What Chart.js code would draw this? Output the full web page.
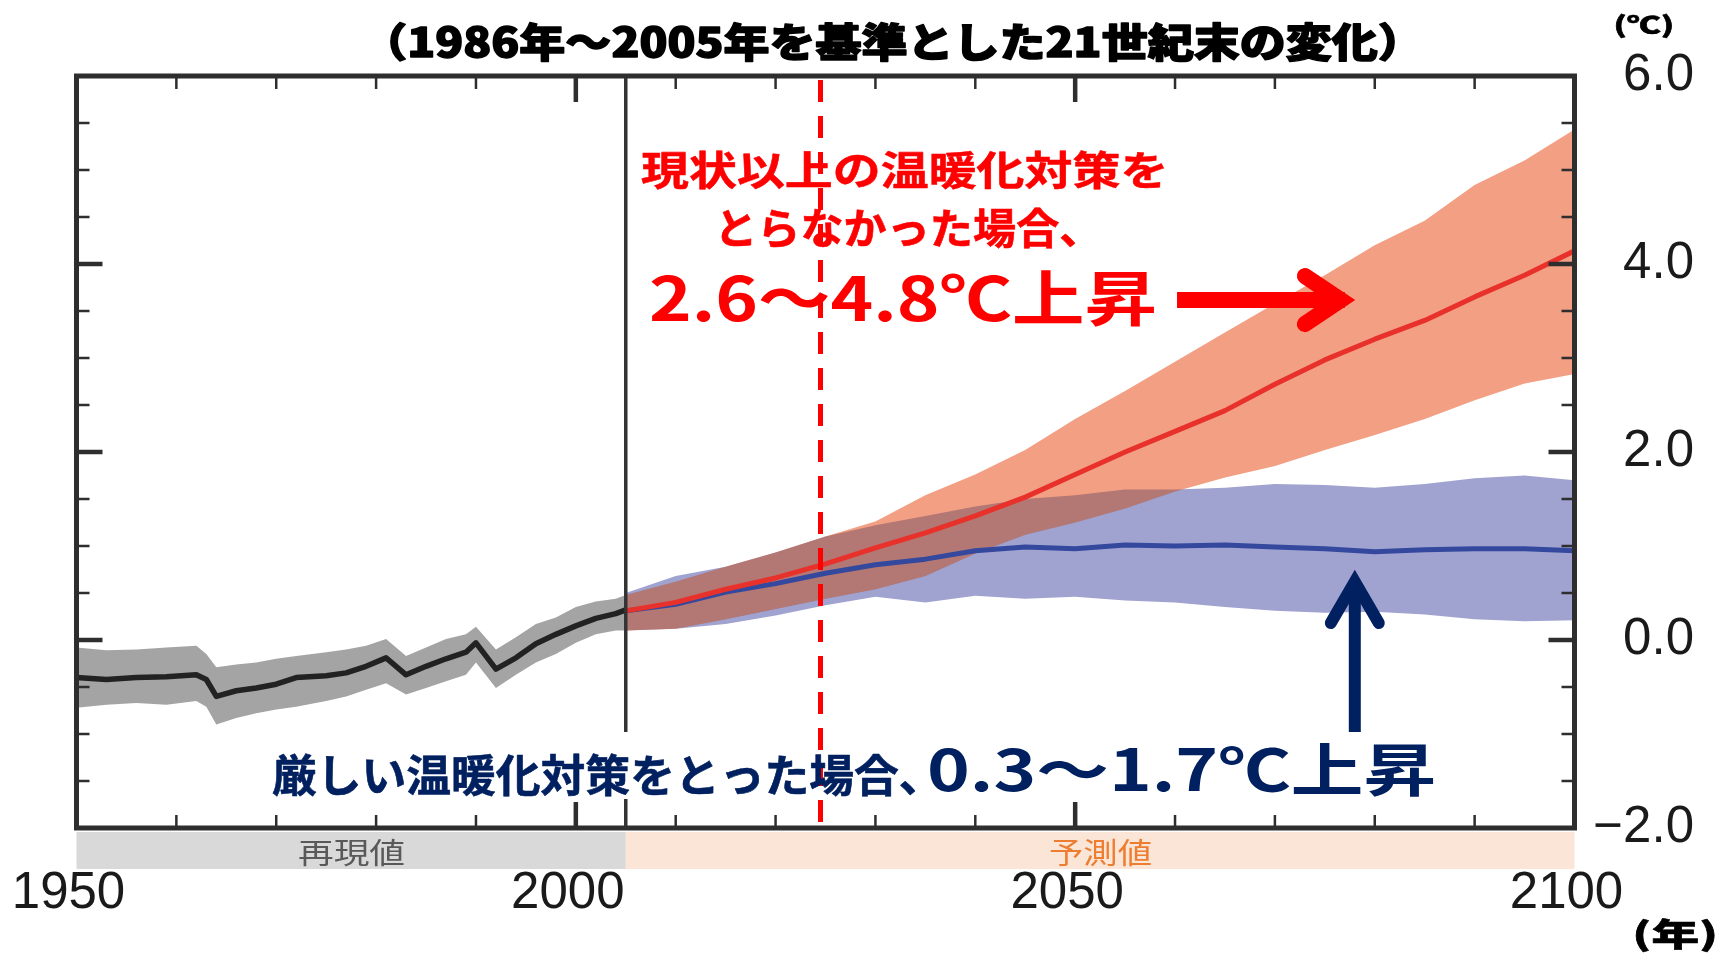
<!DOCTYPE html>
<html><head><meta charset="utf-8">
<script src="https://cdn.jsdelivr.net/npm/chart.js@4.4.1/dist/chart.umd.min.js"></script>
<style>html,body{margin:0;padding:0;background:#fff;}canvas{display:block;}</style>
</head><body>
<canvas id="c" width="1736" height="960"></canvas>
<script>
// ---------------- data ----------------
const histYears = [1950,1953,1956,1959,1962,1963,1964,1966,1968,1970,1972,1975,1977,1979,1981,1983,1985,1987,1989,1990,1992,1994,1996,1998,2000,2002,2004,2005];
const histMean  = [-0.40,-0.42,-0.40,-0.39,-0.37,-0.42,-0.60,-0.54,-0.51,-0.47,-0.40,-0.38,-0.35,-0.28,-0.19,-0.37,-0.28,-0.20,-0.13,-0.03,-0.31,-0.19,-0.04,0.06,0.15,0.23,0.28,0.32];
const histUpper = [-0.08,-0.11,-0.10,-0.08,-0.06,-0.15,-0.29,-0.26,-0.24,-0.20,-0.17,-0.13,-0.10,-0.06,0.01,-0.17,-0.08,0.01,0.06,0.14,-0.10,0.03,0.17,0.24,0.35,0.41,0.44,0.48];
const histLower = [-0.72,-0.69,-0.67,-0.69,-0.65,-0.71,-0.90,-0.83,-0.78,-0.74,-0.71,-0.65,-0.60,-0.53,-0.46,-0.58,-0.51,-0.44,-0.37,-0.24,-0.51,-0.37,-0.24,-0.15,-0.03,0.06,0.10,0.10];

const projYears = [2005,2010,2015,2020,2025,2030,2035,2040,2045,2050,2055,2060,2065,2070,2075,2080,2085,2090,2095,2100];
const highMean  = [0.31,0.40,0.54,0.66,0.81,0.98,1.14,1.32,1.52,1.76,2.00,2.22,2.44,2.72,2.98,3.20,3.40,3.65,3.88,4.14];
const highUpper = [0.48,0.62,0.78,0.93,1.10,1.26,1.54,1.76,2.02,2.35,2.65,2.96,3.27,3.58,3.88,4.20,4.46,4.84,5.10,5.43];
const highLower = [0.10,0.12,0.22,0.33,0.44,0.54,0.68,0.92,1.12,1.25,1.40,1.58,1.73,1.85,2.02,2.18,2.35,2.55,2.73,2.83];
const lowMean   = [0.31,0.38,0.51,0.60,0.71,0.80,0.86,0.95,0.99,0.97,1.01,1.00,1.01,0.99,0.97,0.94,0.96,0.97,0.97,0.95];
const lowUpper  = [0.50,0.68,0.78,0.93,1.10,1.22,1.32,1.42,1.50,1.54,1.60,1.60,1.62,1.66,1.65,1.62,1.66,1.72,1.75,1.70];
const lowLower  = [0.10,0.12,0.17,0.26,0.37,0.46,0.40,0.47,0.44,0.46,0.42,0.40,0.35,0.31,0.29,0.30,0.27,0.22,0.20,0.21];

const xTicks = [1950, 2000, 2050, 2100];
const xTickLabels = ['1950', '2000', '2050', '2100'];
const yTicks = [-2, 0, 2, 4, 6];
const yTickLabels = ['\u22122.0', '0.0', '2.0', '4.0', '6.0'];

const periodLabels = ['再現値', '予測値'];
const periodBounds = [1950, 2005, 2100];
const nowYear = 2024.5;

const titleText = '（1986年～2005年を基準とした21世紀末の変化）';
const unitY = '(℃)';
const unitX = '(年)';
const highText1 = '現状以上の温暖化対策を';
const highText2 = 'とらなかった場合、';
const highText3 = '2.6～4.8℃上昇';
const lowText1 = '厳しい温暖化対策をとった場合、';
const lowText2 = '0.3～1.7℃上昇';

// ---------------- style / layout ----------------
const C = {
  grayBand: '#A4A4A4', histLine: '#222222',
  blueBand: '#A0A2D0', blueLine: '#34499E',
  redBand: '#F3A085', redBandVeil: 'rgba(243,160,133,0.3)', redLine: '#E8312B',
  red: '#FF0000', navy: '#002060', axis: '#2E2E2E'
};
const CJK = '"Noto Sans CJK JP", "Noto Sans CJK SC", sans-serif';
const LAT = '"Liberation Sans", Arial, sans-serif';

const pts = (xs, ys) => xs.map((x, i) => ({x, y: ys[i]}));

function fitText(ctx, text, font, color, x0, y0, x1, y1, stroke) {
  ctx.save();
  ctx.font = font;
  ctx.fillStyle = color;
  ctx.textAlign = 'left';
  ctx.textBaseline = 'alphabetic';
  const m = ctx.measureText(text);
  const w = m.actualBoundingBoxLeft + m.actualBoundingBoxRight;
  const h = m.actualBoundingBoxAscent + m.actualBoundingBoxDescent;
  const sx = (x1 - x0) / w, sy = (y1 - y0) / h;
  ctx.translate(x0, y0);
  ctx.scale(sx, sy);
  ctx.fillText(text, m.actualBoundingBoxLeft, m.actualBoundingBoxAscent);
  if (stroke) {
    ctx.strokeStyle = color; ctx.lineJoin = 'round';
    ctx.lineWidth = stroke / Math.max(sx, sy);
    ctx.strokeText(text, m.actualBoundingBoxLeft, m.actualBoundingBoxAscent);
  }
  ctx.restore();
}

const blendPlugin = {
  id: 'blend',
  beforeDatasetDraw(chart, args) {
    chart.ctx.globalCompositeOperation = (args.index === 4) ? 'multiply' : 'source-over';
  },
  afterDatasetsDraw(chart) {
    chart.ctx.globalCompositeOperation = 'source-over';
  }
};

const decorPlugin = {
  id: 'decor',
  afterDraw(chart) {
    const ctx = chart.ctx, a = chart.chartArea;
    const xs = chart.scales.x, ys = chart.scales.y;
    const X = v => xs.getPixelForValue(v), Y = v => ys.getPixelForValue(v);
    ctx.save();
    // 2005 boundary line
    ctx.strokeStyle = '#333'; ctx.lineWidth = 3.5;
    ctx.beginPath(); ctx.moveTo(X(periodBounds[1]), a.top); ctx.lineTo(X(periodBounds[1]), a.bottom); ctx.stroke();
    // white box behind lower annotation
    ctx.fillStyle = '#fff';
    ctx.fillRect(262, 732, 1185, 67);
    // dashed "now" line
    ctx.strokeStyle = C.red; ctx.lineWidth = 5; ctx.setLineDash([22, 14]);
    ctx.beginPath(); ctx.moveTo(X(nowYear), a.top + 4); ctx.lineTo(X(nowYear), a.bottom + 10); ctx.stroke();
    ctx.setLineDash([]);
    // frame
    ctx.strokeStyle = C.axis; ctx.lineWidth = 5;
    ctx.strokeRect(a.left, a.top, a.right - a.left, a.bottom - a.top);
    // ticks
    ctx.lineCap = 'butt';
    for (let yr = 1960; yr < 2100; yr += 10) {
      const major = yr % 50 === 0;
      const L = major ? 26 : 13;
      ctx.lineWidth = major ? 4.5 : 2.5;
      const px = X(yr);
      ctx.beginPath();
      ctx.moveTo(px, a.top); ctx.lineTo(px, a.top + L);
      ctx.moveTo(px, a.bottom); ctx.lineTo(px, a.bottom - L);
      ctx.stroke();
    }
    for (let k = -3; k <= 11; k++) {
      const v = k * 0.5;
      const major = (k % 4 === 0);
      const L = major ? 26 : 13;
      ctx.lineWidth = major ? 4.5 : 2.5;
      const py = Y(v);
      ctx.beginPath();
      ctx.moveTo(a.left, py); ctx.lineTo(a.left + L, py);
      ctx.moveTo(a.right, py); ctx.lineTo(a.right - L, py);
      ctx.stroke();
    }
    // period strips
    ctx.fillStyle = '#D9D9D9';
    ctx.fillRect(X(periodBounds[0]), 832, X(periodBounds[1]) - X(periodBounds[0]), 37);
    ctx.fillStyle = '#FBE5D6';
    ctx.fillRect(X(periodBounds[1]), 832, X(periodBounds[2]) - X(periodBounds[1]), 37);
    fitText(ctx, periodLabels[0], '400 34px ' + CJK, '#595959', 299, 838, 404, 867);
    fitText(ctx, periodLabels[1], '400 34px ' + CJK, '#ED7D31', 1050, 838, 1151, 867);
    // title & units
    fitText(ctx, titleText, '900 40px ' + CJK, '#000', 390, 22, 1395, 62, 1.6);
    fitText(ctx, unitY, '900 24px ' + CJK, '#000', 1615, 13, 1672, 38, 0.8);
    fitText(ctx, unitX, '900 36px ' + CJK, '#000', 1635, 918, 1715, 953, 0.8);
    // annotations (high emission)
    fitText(ctx, highText1, 'bold 44px ' + CJK, C.red, 641, 150, 1164, 190, 0.6);
    fitText(ctx, highText2, 'bold 44px ' + CJK, C.red, 721, 207, 1075, 249, 0.6);
    fitText(ctx, highText3, 'bold 72px ' + CJK, C.red, 651, 270, 1154, 328);
    // annotations (low emission)
    fitText(ctx, lowText1, 'bold 44px ' + CJK, C.navy, 272, 753, 915, 797, 0.6);
    fitText(ctx, lowText2, 'bold 72px ' + CJK, C.navy, 930, 742, 1433, 797);
    // red arrow
    const ay = Y(3.617);
    ctx.strokeStyle = C.red; ctx.lineWidth = 16; ctx.lineCap = 'butt';
    ctx.beginPath(); ctx.moveTo(X(2060.2), ay); ctx.lineTo(X(2077.0), ay); ctx.stroke();
    ctx.lineCap = 'round'; ctx.lineJoin = 'miter';
    ctx.beginPath(); ctx.moveTo(X(2073.0), ay - 24); ctx.lineTo(X(2076.6), ay); ctx.lineTo(X(2073.0), ay + 24); ctx.stroke();
    // navy arrow
    const bx = X(2078.0);
    ctx.strokeStyle = C.navy; ctx.lineWidth = 12; ctx.lineCap = 'butt';
    ctx.beginPath(); ctx.moveTo(bx, Y(-0.98)); ctx.lineTo(bx, Y(0.60)); ctx.stroke();
    ctx.lineCap = 'round';
    ctx.beginPath(); ctx.moveTo(bx - 24, Y(0.18)); ctx.lineTo(bx, Y(0.62)); ctx.lineTo(bx + 24, Y(0.18)); ctx.stroke();
    ctx.restore();
  }
};

function build() {
  const ctx = document.getElementById('c').getContext('2d');
  const none = {borderWidth: 0, borderColor: 'rgba(0,0,0,0)', pointRadius: 0, fill: false};
  new Chart(ctx, {
    type: 'line',
    data: {
      datasets: [
        Object.assign({label: 'histLower', data: pts(histYears, histLower), order: 30}, none),
        Object.assign({}, none, {label: 'histUpper', data: pts(histYears, histUpper), order: 29, fill: '-1', backgroundColor: C.grayBand}),
        Object.assign({label: 'lowLower', data: pts(projYears, lowLower), order: 28}, none),
        Object.assign({}, none, {label: 'lowUpper', data: pts(projYears, lowUpper), order: 27, fill: '-1', backgroundColor: C.blueBand}),
        Object.assign({label: 'highLower', data: pts(projYears, highLower), order: 26}, none),
        Object.assign({}, none, {label: 'highUpper', data: pts(projYears, highUpper), order: 25, fill: '-1', backgroundColor: C.redBand}),
        Object.assign({}, none, {label: 'highUpperVeil', data: pts(projYears, highUpper), order: 24, fill: 4, backgroundColor: C.redBandVeil}),
        {label: 'histMean', data: pts(histYears, histMean), order: 3, borderColor: C.histLine, borderWidth: 5.5, pointRadius: 0, fill: false},
        {label: 'lowMean', data: pts(projYears, lowMean), order: 2, borderColor: C.blueLine, borderWidth: 5, pointRadius: 0, fill: false},
        {label: 'highMean', data: pts(projYears, highMean), order: 1, borderColor: C.redLine, borderWidth: 5, pointRadius: 0, fill: false}
      ]
    },
    options: {
      responsive: false, animation: false,
      layout: {padding: {left: 76.5, top: 76, right: 42, bottom: 0}},
      elements: {line: {tension: 0, borderJoinStyle: 'round'}, point: {radius: 0}},
      plugins: {legend: {display: false}, tooltip: {enabled: false}, title: {display: false}},
      scales: {
        x: {
          type: 'linear', position: 'bottom', min: 1950, max: 2100,
          afterBuildTicks: s => { s.ticks = xTicks.map(v => ({value: v})); },
          afterFit: s => { s.height = 132; s.paddingLeft = 0; s.paddingRight = 0; },
          grid: {display: false, drawTicks: false}, border: {display: false},
          ticks: {
            autoSkip: false, maxRotation: 0, padding: 35, labelOffset: -8, color: '#1a1a1a',
            font: {family: LAT, size: 51},
            callback: v => xTickLabels[xTicks.indexOf(v)]
          }
        },
        y: {
          type: 'linear', position: 'right', min: -2, max: 6,
          afterBuildTicks: s => { s.ticks = yTicks.map(v => ({value: v})); },
          afterFit: s => { s.width = 1736 - 42 - 1574.5; },
          grid: {display: false, drawTicks: false}, border: {display: false},
          ticks: {
            crossAlign: 'far', padding: 18, color: '#1a1a1a',
            font: {family: LAT, size: 51},
            callback: v => yTickLabels[yTicks.indexOf(v)]
          }
        }
      }
    },
    plugins: [blendPlugin, decorPlugin]
  });
}
Promise.all([
  document.fonts.load('900 40px "Noto Sans CJK JP"', '年'),
  document.fonts.load('bold 40px "Noto Sans CJK JP"', '年'),
  document.fonts.load('400 40px "Noto Sans CJK JP"', '年'),
  document.fonts.load('51px "Liberation Sans"', '0')
]).catch(() => {}).then(build);
</script>
</body></html>
